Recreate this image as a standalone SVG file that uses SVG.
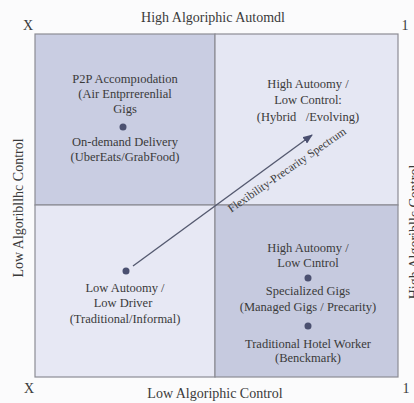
<svg xmlns="http://www.w3.org/2000/svg" width="414" height="403" viewBox="0 0 414 403">
<style>
  .lbl { font-size: 12.5px; text-anchor: middle; }
  .ax { font-size: 14px; text-anchor: middle; }
  .q { stroke: #8c8c94; stroke-width: 1.2; }
  .dot { fill: #4b5070; }
</style>
<defs>
  <marker id="ah" markerWidth="10" markerHeight="8" refX="9" refY="4" orient="auto" markerUnits="userSpaceOnUse">
    <path d="M0,0 L10,4 L0,8 Z" fill="#4b5070"/>
  </marker>
</defs>
<rect width="414" height="403" fill="#fbfbfc"/>
<g font-family="'Liberation Serif', 'Times New Roman', Times, serif" fill="#3a3a3a">
<g id="axes">
  <text class="ax" x="213" y="22" font-size="14.5">High Algoriphic Automdl</text>
  <text class="ax" x="215" y="398">Low Algoriphic Control</text>
  <text class="ax" transform="translate(23,208) rotate(-90)">Low Algoribllhc Control</text>
  <text class="ax" transform="translate(419,232) rotate(-90)">High Algoribllc Control</text>
  <text class="ax" x="28" y="30">X</text>
  <text class="ax" x="405" y="30">1</text>
  <text class="ax" x="29" y="393">X</text>
  <text class="ax" x="406" y="393">1</text>
</g>
<g id="q-top-left">
  <rect class="q" x="35" y="34" width="180" height="171" fill="#c9cde2"/>
  <text class="lbl" x="125" y="83">P2P Accompıodation</text>
  <text class="lbl" x="125" y="98">(Air  Entprrerenlial</text>
  <text class="lbl" x="125" y="113">Gigs</text>
  <circle class="dot" cx="123" cy="127" r="3.5"/>
  <text class="lbl" x="125" y="146">On-demand Delivery</text>
  <text class="lbl" x="125" y="161">(UberEats/GrabFood)</text>
</g>
<g id="q-top-right">
  <rect class="q" x="215" y="34" width="183" height="171" fill="#e5e7f3"/>
  <text class="lbl" x="308" y="88">High Autoomy /</text>
  <text class="lbl" x="308" y="104">Low Control:</text>
  <text class="lbl" x="308" y="121" xml:space="preserve">(Hybrid   /Evolving)</text>
</g>
<g id="q-bottom-left">
  <rect class="q" x="35" y="205" width="180" height="172" fill="#e7e8f4"/>
  <circle class="dot" cx="126" cy="271" r="3.5"/>
  <text class="lbl" x="125" y="292">Low Autoomy /</text>
  <text class="lbl" x="123" y="307">Low Driver</text>
  <text class="lbl" x="125" y="323">(Traditional/Informal)</text>
</g>
<g id="q-bottom-right">
  <rect class="q" x="215" y="205" width="183" height="172" fill="#c6cadf"/>
  <text class="lbl" x="308" y="252">High Autoomy /</text>
  <text class="lbl" x="308" y="267">Low Cıntrol</text>
  <circle class="dot" cx="308" cy="278" r="3.5"/>
  <text class="lbl" x="308" y="295">Specialized Gigs</text>
  <text class="lbl" x="308" y="311">(Managed Gigs / Precarity)</text>
  <circle class="dot" cx="308" cy="326" r="3.5"/>
  <text class="lbl" x="308" y="348">Traditional Hotel Worker</text>
  <text class="lbl" x="308" y="362">(Benckmark)</text>
</g>
<g id="connectors">
  <line x1="133" y1="266" x2="312" y2="135" stroke="#555a70" stroke-width="1.4" marker-end="url(#ah)"/>
  <text transform="translate(289,173) rotate(-34.5)" font-size="11.5" text-anchor="middle">Flexibility-Precarity Spectrum</text>
</g>
</g>
</svg>
